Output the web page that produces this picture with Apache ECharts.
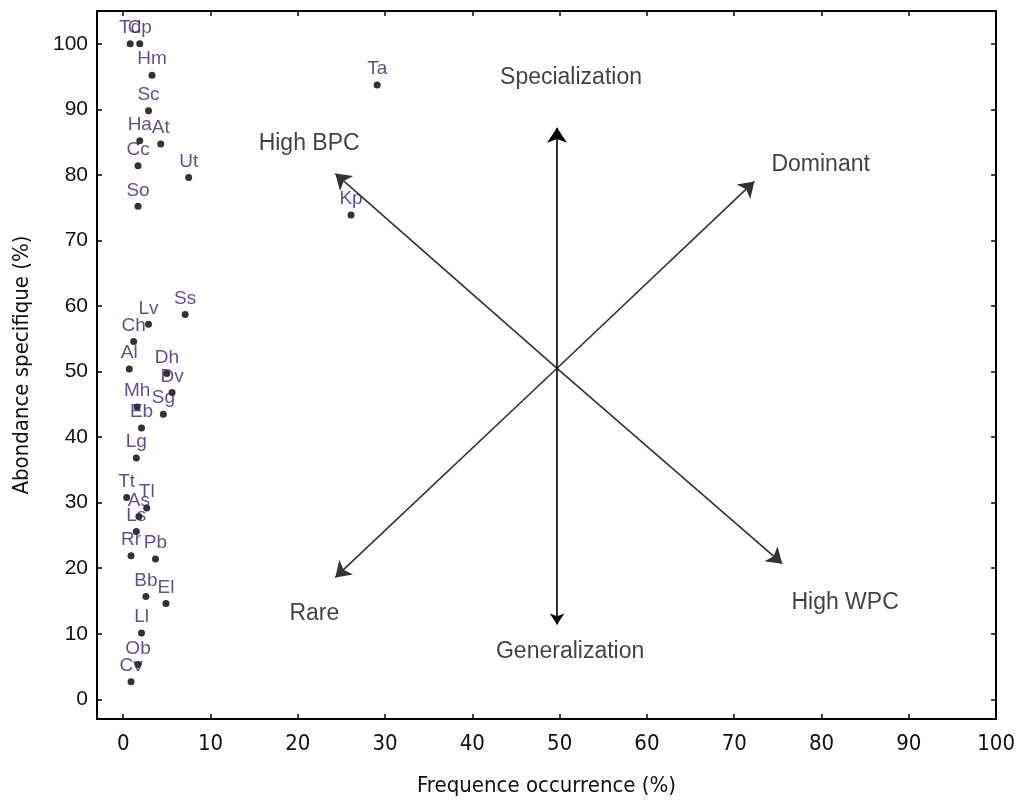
<!DOCTYPE html>
<html>
<head>
<meta charset="utf-8">
<script src="https://cdn.jsdelivr.net/npm/echarts@6/dist/echarts.min.js"></script>
<style>
  html, body { margin: 0; padding: 0; background: #fff; }
  #chart { width: 1018px; height: 802px; }
</style>
</head>
<body>
<div id="chart"></div>
<script>
// Species points (frequence occurrence %, abondance specifique %)
const speciesNames = ['Td', 'Cp', 'Hm', 'Sc', 'Ha', 'At', 'Cc', 'Ut', 'So', 'Ta', 'Kp',
  'Ss', 'Lv', 'Ch', 'Al', 'Dh', 'Dv', 'Mh', 'Sg', 'Eb', 'Lg',
  'Tt', 'As', 'Tl', 'Ls', 'Rr', 'Pb', 'Bb', 'El', 'Ll', 'Ob', 'Cv'];
const freqValues = [0.8, 1.9, 3.3, 2.9, 1.9, 4.3, 1.7, 7.5, 1.7, 29.1, 26.1,
  7.1, 2.9, 1.2, 0.7, 5.0, 5.6, 1.6, 4.6, 2.1, 1.5,
  0.4, 1.8, 2.7, 1.5, 0.9, 3.7, 2.6, 4.9, 2.1, 1.7, 0.9];
const abondValues = [100, 100, 95.2, 89.8, 85.2, 84.7, 81.4, 79.6, 75.2, 93.7, 73.9,
  58.7, 57.2, 54.6, 50.4, 49.7, 46.8, 44.6, 43.5, 41.4, 36.8,
  30.8, 27.9, 29.2, 25.6, 21.9, 21.4, 15.7, 14.6, 10.1, 5.3, 2.7];

// Tick labels
const xTicks = [0, 10, 20, 30, 40, 50, 60, 70, 80, 90, 100];
const yTicks = [0, 10, 20, 30, 40, 50, 60, 70, 80, 90, 100];

// Arrows: centre and tips
const arrowCentre = [49.7, 50.5];
const diagTips = [[24.3, 80.2], [72.3, 79.0], [24.3, 18.6], [75.5, 20.7]];
const vertArrow = [[49.7, 11.4], [49.7, 87.2]];

// Quadrant annotations
const noteNames = ['Specialization', 'High BPC', 'Dominant', 'Rare', 'Generalization', 'High WPC'];
const noteX = [51.3, 21.3, 79.9, 21.9, 51.2, 82.7];
const noteY = [94.8, 84.7, 81.5, 13.1, 7.3, 14.8];

const narrow = "'Liberation Sans Narrow', 'Arial Narrow', 'DejaVu Sans Condensed', sans-serif";
const regular = "Arial, 'Liberation Sans', sans-serif";

const chart = echarts.init(document.getElementById('chart'));

const tickStyle = { inside: true, length: 5, lineStyle: { color: '#000', width: 1.5 } };
const lineStyle = { show: true, onZero: false, lineStyle: { color: '#000', width: 2 } };

const option = {
  backgroundColor: '#fff',
  animation: false,
  grid: { left: 97, right: 19, top: 11, bottom: 82 },
  xAxis: [
    {
      type: 'value', min: -3, max: 100, position: 'bottom',
      axisLine: lineStyle,
      axisTick: Object.assign({ customValues: xTicks }, tickStyle),
      axisLabel: {
        customValues: xTicks, margin: 14,
        fontFamily: narrow, fontSize: 22, color: '#111'
      },
      splitLine: { show: false },
      name: 'Frequence occurrence (%)', nameLocation: 'middle', nameGap: 56,
      nameTextStyle: { fontFamily: narrow, fontSize: 22, color: '#111' }
    },
    {
      type: 'value', min: -3, max: 100, position: 'top',
      axisLine: lineStyle,
      axisTick: Object.assign({ customValues: xTicks }, tickStyle),
      axisLabel: { show: false },
      splitLine: { show: false }
    }
  ],
  yAxis: [
    {
      type: 'value', min: -3, max: 105, position: 'left',
      axisLine: lineStyle,
      axisTick: Object.assign({ customValues: yTicks }, tickStyle),
      axisLabel: {
        customValues: yTicks, margin: 9,
        fontFamily: regular, fontSize: 21, color: '#111'
      },
      splitLine: { show: false },
      name: 'Abondance specifique (%)', nameLocation: 'middle', nameGap: 64,
      nameTextStyle: { fontFamily: narrow, fontSize: 22, color: '#111' }
    },
    {
      type: 'value', min: -3, max: 105, position: 'right',
      axisLine: lineStyle,
      axisTick: Object.assign({ customValues: yTicks }, tickStyle),
      axisLabel: { show: false },
      splitLine: { show: false }
    }
  ],
  series: [
    {
      name: 'arrows',
      type: 'lines',
      coordinateSystem: 'cartesian2d',
      symbol: ['none', 'arrow'],
      symbolSize: [11, 15],
      lineStyle: { color: '#333', width: 1.6, opacity: 1 },
      silent: true,
      z: 2,
      data: diagTips.map(t => ({ coords: [arrowCentre, t] }))
    },
    {
      name: 'vertical',
      type: 'lines',
      coordinateSystem: 'cartesian2d',
      symbol: ['arrow', 'arrow'],
      symbolSize: [11, 15],
      lineStyle: { color: '#000', width: 1.6, opacity: 1 },
      silent: true,
      z: 2,
      data: [{ coords: vertArrow }]
    },
    {
      name: 'species',
      type: 'scatter',
      symbol: 'circle',
      symbolSize: 7,
      itemStyle: { color: '#000' },
      z: 5,
      label: {
        show: true,
        position: 'top',
        distance: 3,
        formatter: p => p.name,
        fontFamily: regular,
        fontSize: 19,
        color: '#3d1f6e'
      },
      data: speciesNames.map((n, i) => ({ name: n, value: [freqValues[i], abondValues[i]] }))
    },
    {
      name: 'notes',
      type: 'scatter',
      symbolSize: 1,
      itemStyle: { color: 'transparent' },
      silent: true,
      z: 6,
      label: {
        show: true,
        position: 'inside',
        formatter: p => p.name,
        fontFamily: regular,
        fontSize: 23,
        color: '#111'
      },
      data: noteNames.map((n, i) => ({ name: n, value: [noteX[i], noteY[i]] }))
    }
  ]
};

chart.setOption(option);
</script>
</body>
</html>
